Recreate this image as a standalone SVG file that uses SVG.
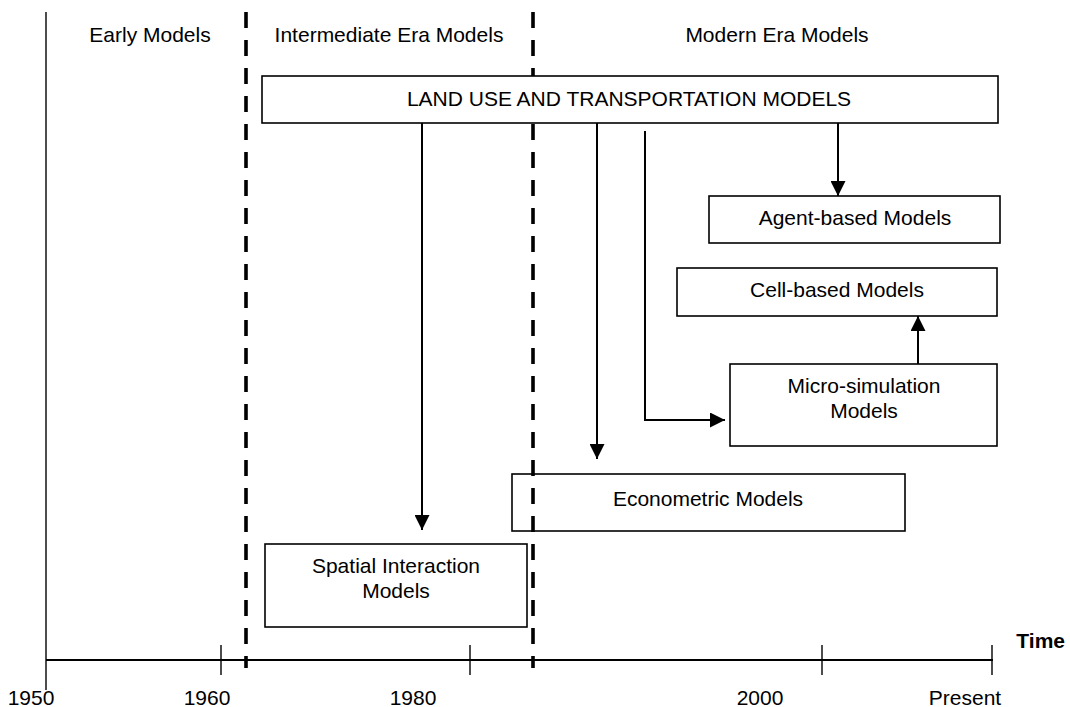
<svg xmlns="http://www.w3.org/2000/svg" width="1070" height="707" viewBox="0 0 1070 707">
<style>
text{font-family:"Liberation Sans",Arial,sans-serif;font-size:21px;fill:#000}
.box{fill:#fff;stroke:#000;stroke-width:1.6}
.obox{fill:none;stroke:#000;stroke-width:1.6}
.dash{stroke:#000;stroke-width:3.6;stroke-dasharray:16 12;fill:none}
.ax{stroke:#000;stroke-width:1.4;fill:none}
.conn{stroke:#000;stroke-width:2;fill:none}
</style>
<defs>
<marker id="ah" markerWidth="15" markerHeight="15" refX="15" refY="7.5" orient="auto" markerUnits="userSpaceOnUse" viewBox="0 0 15 15">
<path d="M0,0 L15,7.5 L0,15 Z" fill="#000"/>
</marker>
</defs>
<g id="axis">
<line class="ax" x1="46" y1="12" x2="46" y2="690"/>
<line x1="46" y1="660" x2="993" y2="660" stroke="#000" stroke-width="2.2"/>
<line class="ax" x1="221" y1="645" x2="221" y2="675"/>
<line class="ax" x1="470" y1="645" x2="470" y2="675"/>
<line class="ax" x1="822" y1="645" x2="822" y2="675"/>
<line class="ax" x1="992" y1="645" x2="992" y2="675"/>
<text x="31" y="705" text-anchor="middle">1950</text>
<text x="207" y="705" text-anchor="middle">1960</text>
<text x="413" y="705" text-anchor="middle">1980</text>
<text x="760" y="705" text-anchor="middle">2000</text>
<text x="965" y="705" text-anchor="middle">Present</text>
<text x="1065" y="648" text-anchor="end" font-weight="bold" font-size="18">Time</text>
</g>
<g id="headers">
<text x="150" y="42" text-anchor="middle">Early Models</text>
<text x="389" y="42" text-anchor="middle">Intermediate Era Models</text>
<text x="777" y="42" text-anchor="middle">Modern Era Models</text>
</g>
<g id="econometric">
<rect class="obox" x="512" y="474" width="393" height="57"/>
<text x="708" y="506" text-anchor="middle">Econometric Models</text>
</g>
<g id="era-dividers">
<line class="dash" x1="246" y1="12" x2="246" y2="668"/>
<line class="dash" x1="533" y1="12" x2="533" y2="668"/>
</g>
<g id="land-use">
<rect class="box" x="262" y="76" width="736" height="47"/>
<text x="629" y="106" text-anchor="middle" font-size="21.5">LAND USE AND TRANSPORTATION MODELS</text>
</g>
<g id="agent-based">
<rect class="box" x="709" y="196" width="291" height="47"/>
<text x="855" y="225" text-anchor="middle">Agent-based Models</text>
</g>
<g id="cell-based">
<rect class="box" x="677" y="268" width="320" height="48"/>
<text x="837" y="297" text-anchor="middle">Cell-based Models</text>
</g>
<g id="micro-simulation">
<rect class="box" x="730" y="364" width="267" height="82"/>
<text x="864" y="393" text-anchor="middle">Micro-simulation</text>
<text x="864" y="418" text-anchor="middle">Models</text>
</g>
<g id="spatial-interaction">
<rect class="box" x="265" y="544" width="262" height="83"/>
<text x="396" y="573" text-anchor="middle">Spatial Interaction</text>
<text x="396" y="598" text-anchor="middle">Models</text>
</g>
<g id="connectors">
<line class="conn" x1="422" y1="123" x2="422" y2="530" marker-end="url(#ah)"/>
<line class="conn" x1="597" y1="123" x2="597" y2="459" marker-end="url(#ah)"/>
<polyline class="conn" points="645,131 645,420 725,420" marker-end="url(#ah)"/>
<line class="conn" x1="838" y1="123" x2="838" y2="196" marker-end="url(#ah)"/>
<line class="conn" x1="918" y1="364" x2="918" y2="316" marker-end="url(#ah)"/>
</g>
</svg>
